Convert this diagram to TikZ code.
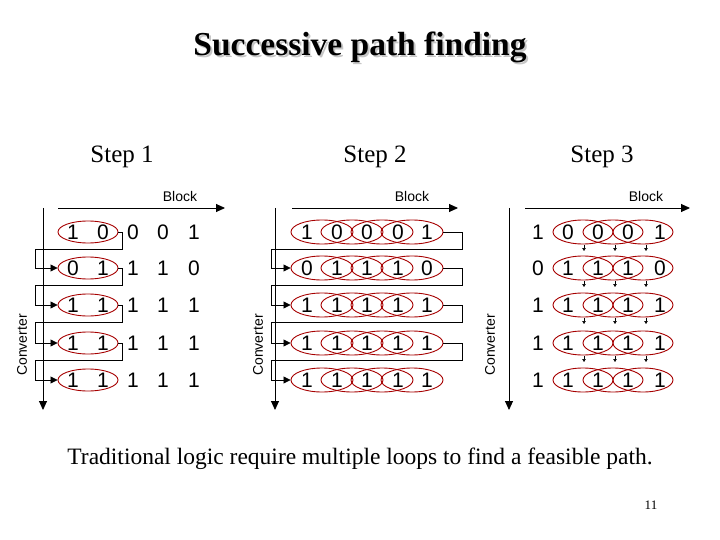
\documentclass[tikz,border=0pt]{standalone}
\usepackage{fontspec}
\setmainfont{Liberation Serif}
\newfontfamily\arial{Liberation Sans}
\usetikzlibrary{arrows.meta,shapes.geometric}
\begin{document}
\begin{tikzpicture}[x=1pt,y=-1pt,
  dig/.style={font=\arial\fontsize{21}{21}\selectfont,inner sep=0pt},
  ov/.style={draw=red!65!black,line width=0.9pt,ellipse,inner sep=0pt},
  axis/.style={line width=0.9pt,-{Triangle[length=9pt,width=8pt]}},
  conn/.style={line width=0.8pt,-{Triangle[length=7pt,width=7pt]}},
  tick/.style={line width=0.5pt,-{Triangle[length=3pt,width=3.5pt]}},
  lab/.style={font=\arial\fontsize{14}{14}\selectfont},
  stp/.style={font=\fontsize{25}{25}\selectfont}]
\useasboundingbox (0,0) rectangle (720,540);
\node[font=\bfseries\fontsize{33.5}{33.5}\selectfont,text=gray!45] (tsh) at (362,49) {Successive path finding};
\node[font=\bfseries\fontsize{33.5}{33.5}\selectfont] (title) at (360,47) {Successive path finding};
\node[stp] (s1) at (122,157) {Step 1};
\node[stp] (s2) at (375,157) {Step 2};
\node[stp] (s3) at (602,157) {Step 3};
\node[font=\fontsize{23.5}{23.5}\selectfont] (cap) at (360,459) {Traditional logic require multiple loops to find a feasible path.};
\node[font=\fontsize{13}{13}\selectfont] (pg) at (651,505) {11};
% axes
\foreach \ax/\hx/\hy/\bx/\cx in {43/58/225/180/22, 275/292/458/412/258, 509/525/690/646/490}{
  \coordinate (vt\ax) at (\ax,208); \coordinate (vb\ax) at (\ax,410);
  \coordinate (hl\ax) at (\hx,208); \coordinate (hr\ax) at (\hy,208);
  \draw[axis] (vt\ax) -- (vb\ax);
  \draw[axis] (hl\ax) -- (hr\ax);
  \node[lab] (bl\ax) at (\bx,196) {Block};
  \node[lab,rotate=90] (cv\ax) at (\cx,345) {Converter};
}
% digits
\foreach \p/\xs in {1/{73,103,133,163,194},2/{307,337,367,398,427},3/{538,568,598,628,660}}{
  \foreach \r/\vals [count=\ri] in {232/{1,0,0,0,1},268/{0,1,1,1,0},305/{1,1,1,1,1},343/{1,1,1,1,1},380/{1,1,1,1,1}}{
    \foreach \x [count=\ci] in \xs {
      \pgfmathtruncatemacro\v{{\vals}[\ci-1]}
      \node[dig] (d\p-\ri-\ci) at (\x,\r) {\v};
    }
  }
}
% ellipses
\foreach \r [count=\ri] in {232,268,305,343,380}{
  \node[ov,minimum width=60pt,minimum height=22pt] (e1-\ri) at (88,\r) {};
  \foreach \cx [count=\k] in {322,352,382,412} \node[ov,minimum width=62pt,minimum height=24pt] (e2-\ri-\k) at (\cx,\r) {};
  \foreach \cx [count=\k] in {583,613,643} \node[ov,minimum width=60pt,minimum height=24pt] (e3-\ri-\k) at (\cx,\r) {};
}
% connectors
\foreach \a/\b/\ra/\rb in {1/2/232/268,2/3/268/305,3/4/305/343,4/5/343/380}{
  \pgfmathsetmacro\m{\ra+17}
  \coordinate (p1t\a) at (122,\ra); \coordinate (p1l\a) at (35,\m);
  \draw[conn] (e1-\a.east) -- (p1t\a) |- (p1l\a) |- (e1-\b.west);
  \coordinate (p2t\a) at (462,\ra); \coordinate (p2l\a) at (271,\m);
  \draw[conn] (e2-\a-4.east) -- (p2t\a) |- (p2l\a) |- (e2-\b-1.west);
  \foreach \tx [count=\k] in {584,615,646}{
    \coordinate (ta\a-\k) at (\tx,\ra+13); \coordinate (tb\a-\k) at (\tx,\ra+19);
    \draw[tick] (ta\a-\k) -- (tb\a-\k);
  }
}
\end{tikzpicture}
\end{document}
